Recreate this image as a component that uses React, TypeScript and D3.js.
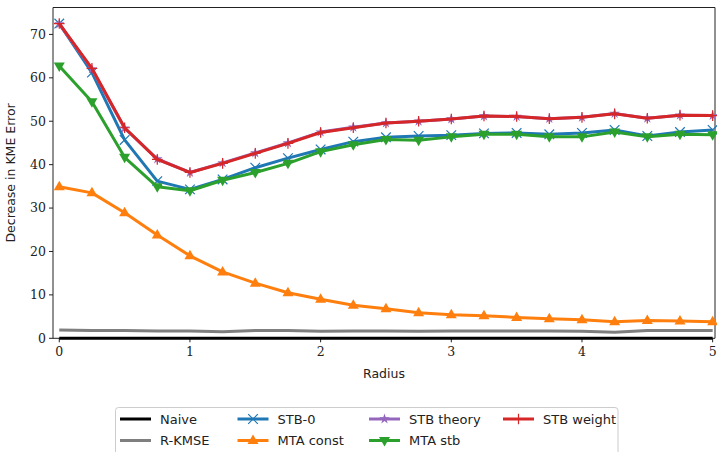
import React from "react";
import * as d3 from "d3";

const radius = [0, 0.25, 0.5, 0.75, 1, 1.25, 1.5, 1.75, 2, 2.25, 2.5, 2.75, 3, 3.25, 3.5, 3.75, 4, 4.25, 4.5, 4.75, 5];
const naive = [0, 0, 0, 0, 0, 0, 0, 0, 0, 0, 0, 0, 0, 0, 0, 0, 0, 0, 0, 0, 0];
const rkmse = [1.9, 1.8, 1.8, 1.7, 1.7, 1.5, 1.8, 1.8, 1.6, 1.7, 1.7, 1.6, 1.7, 1.7, 1.7, 1.7, 1.6, 1.4, 1.8, 1.8, 1.8];
const stb0 = [72.5, 61.2, 45.7, 36.2, 34.3, 36.6, 39.3, 41.5, 43.5, 45.3, 46.3, 46.6, 46.8, 47.2, 47.3, 47.0, 47.3, 48.0, 46.6, 47.5, 48.0];
const mtaConst = [34.9, 33.5, 28.9, 23.8, 19.0, 15.3, 12.7, 10.5, 9.0, 7.6, 6.8, 5.9, 5.4, 5.2, 4.8, 4.5, 4.3, 3.8, 4.1, 4.0, 3.8];
const stbTheory = [72.4, 62.0, 48.4, 41.3, 38.2, 40.4, 42.7, 45.0, 47.5, 48.6, 49.6, 50.0, 50.5, 51.2, 51.1, 50.6, 50.9, 51.8, 50.7, 51.4, 51.3];
const mtaStb = [62.7, 54.5, 41.7, 34.9, 34.0, 36.4, 38.2, 40.3, 43.0, 44.6, 45.8, 45.6, 46.4, 47.0, 47.0, 46.4, 46.4, 47.5, 46.4, 47.0, 46.9];
const stbWeight = [72.5, 62.2, 48.5, 41.2, 38.2, 40.3, 42.6, 44.9, 47.4, 48.5, 49.6, 50.0, 50.5, 51.2, 51.1, 50.6, 50.9, 51.7, 50.7, 51.4, 51.3];

const xTicks = [0, 1, 2, 3, 4, 5];
const yTicks = [0, 10, 20, 30, 40, 50, 60, 70];

type Series = { name: string; values: number[]; color: string; marker: string | null };
const series: Series[] = [
  { name: "Naive", values: naive, color: "#000000", marker: null },
  { name: "R-KMSE", values: rkmse, color: "#7f7f7f", marker: null },
  { name: "STB-0", values: stb0, color: "#1f77b4", marker: "x" },
  { name: "MTA const", values: mtaConst, color: "#ff7f0e", marker: "^" },
  { name: "STB theory", values: stbTheory, color: "#9467bd", marker: "*" },
  { name: "MTA stb", values: mtaStb, color: "#2ca02c", marker: "v" },
  { name: "STB weight", values: stbWeight, color: "#d62728", marker: "+" },
];

const W = 717, H = 452;
const L = 53, R = 715, T = 7.5, B = 338.3;

function Marker({ type, x, y, color }: { type: string; x: number; y: number; color: string }) {
  const s = 4.8;
  if (type === "x") {
    return <path d={`M${x - s},${y - s}L${x + s},${y + s}M${x - s},${y + s}L${x + s},${y - s}`} stroke={color} strokeWidth={1.2} fill="none" />;
  }
  if (type === "+") {
    return <path d={`M${x - s - 0.5},${y}L${x + s + 0.5},${y}M${x},${y - s - 0.5}L${x},${y + s + 0.5}`} stroke={color} strokeWidth={1.2} fill="none" />;
  }
  if (type === "^") {
    return <path d={`M${x},${y - 6}L${x + 5.5},${y + 3.5}L${x - 5.5},${y + 3.5}Z`} fill={color} />;
  }
  if (type === "v") {
    return <path d={`M${x},${y + 6}L${x + 5.5},${y - 3.5}L${x - 5.5},${y - 3.5}Z`} fill={color} />;
  }
  if (type === "*") {
    const p = d3.symbol(d3.symbolStar, 34)() as string;
    return <path d={p} transform={`translate(${x},${y})`} fill={color} />;
  }
  return null;
}

export default function App() {
  const x = d3.scaleLinear().domain([-0.048, 5.018]).range([L, R]);
  const y = d3.scaleLinear().domain([0, 76.2]).range([B, T]);
  const line = d3.line<number>().x((_, i) => x(radius[i])).y((v) => y(v));

  const legendCols = [
    [0, 1],
    [2, 3],
    [4, 5],
    [6],
  ];
  const colX = [120, 237.5, 369, 503];
  const rowY = [419, 440.5];

  return (
    <svg width={W} height={H} style={{ position: "absolute", left: 0, top: 0, background: "#fff" }}>
      <rect x={0} y={0} width={W} height={H} fill="#fff" />
      <line x1={L} x2={R} y1={T} y2={T} stroke="#222" strokeWidth={1} />
      <line x1={L} x2={L} y1={T} y2={B} stroke="#222" strokeWidth={1} />
      <line x1={R} x2={R} y1={T} y2={B} stroke="#222" strokeWidth={1} />
      <line x1={L} x2={R} y1={B} y2={B} stroke="#222" strokeWidth={1} />
      {yTicks.map((t) => (
        <g key={t}>
          <line x1={L - 4} x2={L} y1={y(t)} y2={y(t)} stroke="#222" strokeWidth={1} />
          <text x={L - 7} y={y(t)} dy="0.35em" textAnchor="end" fontFamily="DejaVu Serif" fontSize={12.5} fill="#222">{t}</text>
        </g>
      ))}
      {xTicks.map((t) => (
        <g key={t}>
          <line x1={x(t)} x2={x(t)} y1={B} y2={B + 4} stroke="#222" strokeWidth={1} />
          <text x={x(t)} y={B + 18} textAnchor="middle" fontFamily="DejaVu Serif" fontSize={12.5} fill="#222">{t}</text>
        </g>
      ))}
      <text x={(L + R) / 2} y={378} textAnchor="middle" fontFamily="DejaVu Sans" fontSize={12.5} fill="#222">Radius</text>
      <text transform={`translate(15,${(T + B) / 2}) rotate(-90)`} textAnchor="middle" fontFamily="DejaVu Sans" fontSize={12.5} fill="#222">Decrease in KME Error</text>
      {series.map((s) => (
        <g key={s.name}>
          <path d={line(s.values) as string} fill="none" stroke={s.color} strokeWidth={3} strokeLinejoin="round" />
          {s.marker && s.values.map((v, i) => (
            <Marker key={i} type={s.marker as string} x={x(radius[i])} y={y(v)} color={s.color} />
          ))}
        </g>
      ))}
      <rect x={115.5} y={407.5} width={502.5} height={56} rx={3} fill="#fff" stroke="#ccc" strokeWidth={1} />
      {legendCols.map((col, ci) =>
        col.map((si, ri) => {
          const s = series[si];
          const lx = colX[ci];
          const ly = rowY[ri];
          return (
            <g key={s.name}>
              <line x1={lx} x2={lx + 31} y1={ly} y2={ly} stroke={s.color} strokeWidth={3} />
              {s.marker && <Marker type={s.marker} x={lx + 15.5} y={ly} color={s.color} />}
              <text x={lx + 40} y={ly} dy="0.35em" fontFamily="DejaVu Sans" fontSize={13} fill="#222">{s.name}</text>
            </g>
          );
        })
      )}
    </svg>
  );
}
